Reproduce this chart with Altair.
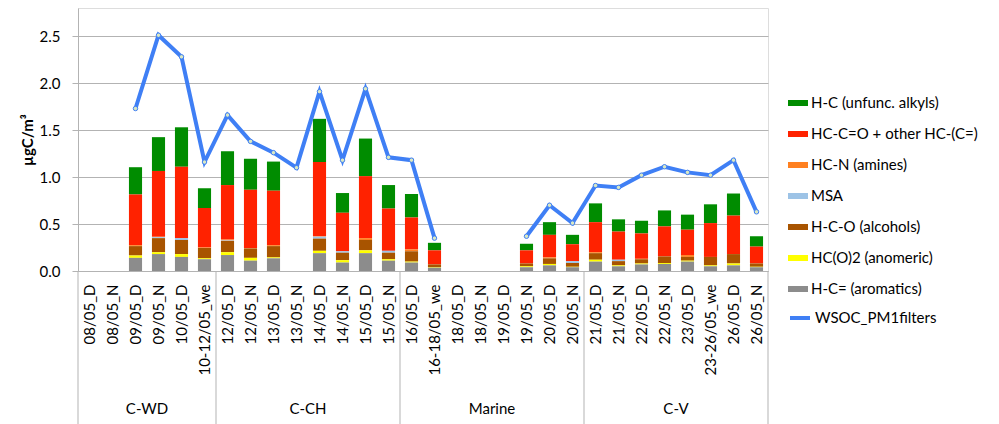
import altair as alt
import pandas as pd

categories = ["08/05_D", "08/05_N", "09/05_D", "09/05_N", "10/05_D", "10-12/05_we",
              "12/05_D", "12/05_N", "13/05_D", "13/05_N", "14/05_D", "14/05_N", "15/05_D", "15/05_N",
              "16/05_D", "16-18/05_we", "18/05_D", "18/05_N", "19/05_D", "19/05_N", "20/05_D", "20/05_N",
              "21/05_D", "21/05_N", "22/05_D", "22/05_N", "23/05_D", "23-26/05_we", "26/05_D", "26/05_N"]
groups = ["C-WD", "C-CH", "Marine", "C-V"]
group_sizes = [6, 8, 8, 8]

components = ["H-C (unfunc. alkyls)", "HC-C=O + other HC-(C=)", "HC-N (amines)", "MSA",
              "H-C-O (alcohols)", "HC(O)2 (anomeric)", "H-C= (aromatics)"]
colors = ["#008c00", "#ff2200", "#ff8020", "#9dc3e6", "#a85400", "#ffff00", "#8c8c8c"]

N = None
alkyls = [N, N, 0.29, 0.36, 0.42, 0.21, 0.36, 0.33, 0.31, N, 0.46, 0.21, 0.40, 0.25,
          0.25, 0.08, N, N, N, 0.07, 0.135, 0.10, 0.20, 0.13, 0.135, 0.17, 0.16, 0.20, 0.235, 0.11]
carbonyl = [N, N, 0.54, 0.70, 0.76, 0.42, 0.58, 0.62, 0.58, N, 0.79, 0.41, 0.66, 0.45,
            0.34, 0.15, N, N, N, 0.14, 0.24, 0.18, 0.32, 0.30, 0.27, 0.32, 0.27, 0.36, 0.41, 0.18]
amines = [N, N, 0.01, 0.005, 0.0, 0.005, 0.01, 0.005, 0.01, N, 0.005, 0.0, 0.02, 0.0,
          0.02, 0.0, N, N, N, 0.0, 0.01, 0.0, 0.01, 0.0, 0.005, 0.0, 0.02, 0.0, 0.0, 0.0]
msa = [N, N, 0.0, 0.01, 0.02, 0.0, 0.005, 0.0, 0.0, N, 0.02, 0.015, 0.0, 0.02,
       0.0, 0.0, N, N, N, 0.0, 0.0, 0.02, 0.0, 0.015, 0.0, 0.0, 0.0, 0.0, 0.0, 0.0]
alcohols = [N, N, 0.10, 0.15, 0.15, 0.11, 0.12, 0.10, 0.12, N, 0.13, 0.08, 0.11, 0.07,
            0.11, 0.03, N, N, N, 0.03, 0.06, 0.04, 0.07, 0.045, 0.045, 0.07, 0.04, 0.09, 0.10, 0.035]
anomeric = [N, N, 0.025, 0.02, 0.03, 0.01, 0.03, 0.03, 0.01, N, 0.025, 0.025, 0.03, 0.015,
            0.01, 0.005, N, N, N, 0.01, 0.015, 0.005, 0.02, 0.01, 0.01, 0.01, 0.01, 0.01, 0.02, 0.005]
aromatics = [N, N, 0.14, 0.18, 0.15, 0.125, 0.17, 0.11, 0.135, N, 0.19, 0.09, 0.19, 0.11,
             0.09, 0.035, N, N, N, 0.04, 0.06, 0.04, 0.10, 0.05, 0.07, 0.075, 0.10, 0.05, 0.06, 0.04]
wsoc = [N, N, 1.73, 2.51, 2.28, 1.16, 1.66, 1.38, 1.26, 1.10, 1.91, 1.18, 1.94, 1.21,
        1.18, 0.35, N, N, N, 0.37, 0.70, 0.51, 0.91, 0.89, 1.02, 1.11, 1.05, 1.02, 1.18, 0.63]

series_values = [alkyls, carbonyl, amines, msa, alcohols, anomeric, aromatics]

rows = []
for ci, (comp, vals) in enumerate(zip(components, series_values)):
    for cat, v in zip(categories, vals):
        if v is not None:
            rows.append({"cat": cat, "comp": comp, "value": v, "stack_idx": len(components) - 1 - ci})
bars_df = pd.DataFrame(rows)

line_df = pd.DataFrame({"cat": categories, "wsoc": wsoc, "series": ["WSOC_PM1filters"] * len(categories)})

starts = []
centers = []
s = 0
for g, n in zip(groups, group_sizes):
    starts.append(categories[s])
    centers.append({"cat": categories[s + n // 2], "group": g})
    s += n
start_df = pd.DataFrame({"cat": starts})
end_df = pd.DataFrame({"cat": [categories[-1]]})
center_df = pd.DataFrame(centers)

FONT = "Lato"
GRID = "#b3b3b3"

x_enc = alt.X("cat:N", sort=categories,
              scale=alt.Scale(domain=categories, paddingInner=0, paddingOuter=0),
              axis=alt.Axis(title=None, labelAngle=-90, labelFontSize=15, labelFont=FONT,
                            labelColor="#000000", ticks=False, domainColor=GRID,
                            labelPadding=13, grid=False, labelOverlap=False))

bars = alt.Chart(bars_df).mark_bar(width=alt.RelativeBandSize(0.57)).encode(
    x=x_enc,
    y=alt.Y("value:Q", stack="zero",
            scale=alt.Scale(domain=[0, 2.8], nice=False),
            axis=alt.Axis(title="µgC/m³", titleFontSize=15, titleFont=FONT, titleFontWeight="bold",
                          titleColor="#000000", titlePadding=4,
                          values=[0, 0.5, 1.0, 1.5, 2.0, 2.5], format=".1f",
                          labelFontSize=15, labelFont=FONT, labelColor="#000000",
                          labelPadding=12, tickSize=6, tickColor=GRID, domainColor=GRID,
                          gridColor=GRID, gridWidth=1)),
    color=alt.Color("comp:N", scale=alt.Scale(domain=components, range=colors),
                    legend=alt.Legend(title=None, orient="none", legendX=710, legendY=85,
                                      symbolType="M-1,-0.3H1V0.3H-1Z", symbolSize=400,
                                      symbolStrokeWidth=0, labelFontSize=15, labelFont=FONT,
                                      labelColor="#000000", labelOffset=3, rowPadding=13,
                                      labelLimit=400, padding=0)),
    order=alt.Order("stack_idx:Q", sort="ascending"),
)

line = alt.Chart(line_df).mark_line(
    strokeWidth=4, invalid="break-paths-show-domains",
    point=alt.OverlayMarkDef(filled=True, fill="#d8e8c4", stroke="#3f7ff5", strokeWidth=1, size=20),
).encode(
    x=alt.X("cat:N", sort=categories),
    y=alt.Y("wsoc:Q"),
    stroke=alt.Stroke("series:N", scale=alt.Scale(domain=["WSOC_PM1filters"], range=["#3f7ff5"]),
                      legend=alt.Legend(title=None, orient="none", legendX=710, legendY=298,
                                        symbolType="stroke", symbolSize=400, symbolStrokeWidth=4,
                                        labelFontSize=15, labelFont=FONT, labelColor="#000000",
                                        labelOffset=3, labelLimit=400, padding=0)),
)

rule_start = alt.Chart(start_df).mark_rule(color=GRID, strokeWidth=1).encode(
    x=alt.X("cat:N", sort=categories, bandPosition=0),
    y=alt.value(263), y2=alt.value(416),
)
rule_end = alt.Chart(end_df).mark_rule(color=GRID, strokeWidth=1).encode(
    x=alt.X("cat:N", sort=categories, bandPosition=1),
    y=alt.value(263), y2=alt.value(416),
)
group_text = alt.Chart(center_df).mark_text(fontSize=15, font=FONT, color="#000000", baseline="middle").encode(
    x=alt.X("cat:N", sort=categories, bandPosition=0),
    y=alt.value(401),
    text="group:N",
)

chart = alt.layer(bars, line, rule_start, rule_end, group_text).resolve_scale(
    color="independent", stroke="independent"
).properties(
    width=690, height=263,
    padding={"left": 12, "top": 0, "right": 0, "bottom": 0},
).configure_view(stroke=None).configure(font=FONT)

chart.save("out.html", embed_options={"renderer": "svg", "actions": False})
